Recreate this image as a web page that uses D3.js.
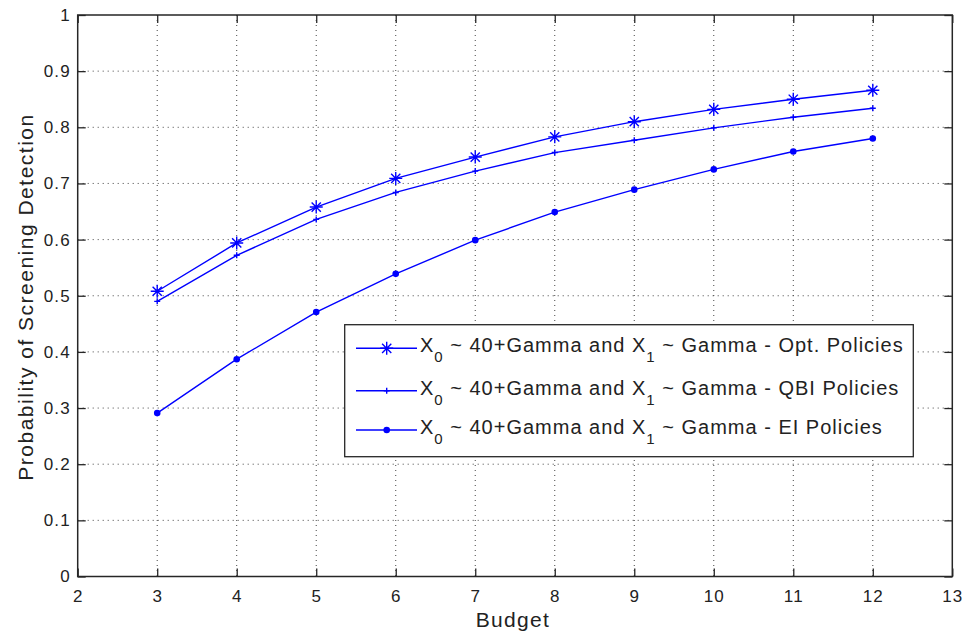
<!DOCTYPE html>
<html>
<head>
<meta charset="utf-8">
<script src="https://cdn.jsdelivr.net/npm/d3@7"></script>
<style>
  html, body { margin: 0; padding: 0; background: #fff; }
  svg { display: block; font-family: "Liberation Sans", Arial, sans-serif; }
</style>
</head>
<body>
<svg id="chart" width="967" height="641"></svg>
<script>
// Budget levels on the x axis
const budgets = [3, 4, 5, 6, 7, 8, 9, 10, 11, 12];
// Detection probability for each screening policy
const optPolicies = [0.508, 0.594, 0.658, 0.709, 0.747, 0.783, 0.810, 0.832, 0.850, 0.866];
const qbiPolicies = [0.490, 0.572, 0.636, 0.684, 0.722, 0.755, 0.777, 0.799, 0.818, 0.834];
const eiPolicies  = [0.291, 0.387, 0.471, 0.539, 0.599, 0.649, 0.689, 0.725, 0.757, 0.780];
// Axis ticks
const xTicks = [2, 3, 4, 5, 6, 7, 8, 9, 10, 11, 12, 13];
const yTicks = [0, 0.1, 0.2, 0.3, 0.4, 0.5, 0.6, 0.7, 0.8, 0.9, 1];
// Legend entries
const seriesNames = ["Opt. Policies", "QBI Policies", "EI Policies"];
const seriesMarkers = ["star", "plus", "dot"];

const svg = d3.select("#chart");
const plotL = 77.7, plotR = 952.3, plotT = 15, plotB = 576.5;
const x = d3.scaleLinear().domain([2, 13]).range([plotL, plotR]);
const y = d3.scaleLinear().domain([0, 1]).range([plotB, plotT]);
const blue = "#0000ff";
const axisColor = "#262626";
const textColor = "#222";

// dotted grid
const grid = svg.append("g");
grid.selectAll("line.vg").data(xTicks.slice(1, -1)).enter().append("line")
  .attr("x1", d => x(d)).attr("x2", d => x(d))
  .attr("y1", plotT).attr("y2", plotB)
  .attr("stroke", "#444").attr("stroke-width", 1).attr("stroke-dasharray", "1,4");
grid.selectAll("line.hg").data(yTicks.slice(1, -1)).enter().append("line")
  .attr("x1", plotL).attr("x2", plotR)
  .attr("y1", d => y(d)).attr("y2", d => y(d))
  .attr("stroke", "#444").attr("stroke-width", 1).attr("stroke-dasharray", "1,4");

// axes with inward ticks on all four sides
const tickLen = 8;
const fmtY = d => d === 0 ? "0" : (d === 1 ? "1" : d3.format(".1f")(d));
const xAxis = d3.axisBottom(x).tickValues(xTicks).tickSize(-tickLen).tickPadding(13).tickFormat(d3.format("d"));
const xAxisTop = d3.axisTop(x).tickValues(xTicks).tickSize(-tickLen).tickFormat("");
const yAxis = d3.axisLeft(y).tickValues(yTicks).tickSize(-tickLen).tickPadding(7).tickFormat(fmtY);
const yAxisRight = d3.axisRight(y).tickValues(yTicks).tickSize(-tickLen).tickFormat("");

function styleAxis(g) {
  g.select(".domain").remove();
  g.selectAll(".tick line").attr("stroke", axisColor).attr("stroke-width", 1.3);
  g.selectAll(".tick text").attr("fill", textColor)
    .style("font-size", "17px").style("letter-spacing", "1.1px")
    .style("font-family", "'Liberation Sans', Arial, sans-serif");
}
svg.append("g").attr("transform", `translate(0,${plotB})`).call(xAxis).call(styleAxis);
svg.append("g").attr("transform", `translate(0,${plotT})`).call(xAxisTop).call(styleAxis);
svg.append("g").attr("transform", `translate(${plotL},0)`).call(yAxis).call(styleAxis);
svg.append("g").attr("transform", `translate(${plotR},0)`).call(yAxisRight).call(styleAxis);

// box
svg.append("rect").attr("x", plotL).attr("y", plotT)
  .attr("width", plotR - plotL).attr("height", plotB - plotT)
  .attr("fill", "none").attr("stroke", axisColor).attr("stroke-width", 1.5);

// axis titles
svg.append("text").attr("x", 513).attr("y", 626.5)
  .attr("text-anchor", "middle").attr("fill", textColor)
  .style("font-size", "21px").style("letter-spacing", "1.3px")
  .text("Budget");
svg.append("text").attr("transform", "translate(33,297) rotate(-90)")
  .attr("text-anchor", "middle").attr("fill", textColor)
  .style("font-size", "21px").style("letter-spacing", "1.5px")
  .text("Probability of Screening Detection");

// marker drawing
function drawMarker(g, kind, cx, cy) {
  if (kind === "star") {
    const r = 6.5, d = 4.6;
    g.append("path")
      .attr("d", `M${cx - r},${cy}L${cx + r},${cy}M${cx},${cy - r}L${cx},${cy + r}` +
                 `M${cx - d},${cy - d}L${cx + d},${cy + d}M${cx - d},${cy + d}L${cx + d},${cy - d}`)
      .attr("stroke", blue).attr("stroke-width", 1.4).attr("fill", "none");
  } else if (kind === "plus") {
    const r = 3;
    g.append("path")
      .attr("d", `M${cx - r},${cy}L${cx + r},${cy}M${cx},${cy - r}L${cx},${cy + r}`)
      .attr("stroke", blue).attr("stroke-width", 1.4).attr("fill", "none");
  } else {
    g.append("circle").attr("cx", cx).attr("cy", cy).attr("r", 3.3).attr("fill", blue);
  }
}

// series lines and markers
const allSeries = [optPolicies, qbiPolicies, eiPolicies];
const line = d3.line().x(d => x(d[0])).y(d => y(d[1]));
allSeries.forEach((vals, i) => {
  const pts = budgets.map((b, j) => [b, vals[j]]);
  const g = svg.append("g");
  g.append("path").datum(pts).attr("d", line)
    .attr("fill", "none").attr("stroke", blue).attr("stroke-width", 1.4);
  pts.forEach(p => drawMarker(g, seriesMarkers[i], x(p[0]), y(p[1])));
});

// legend
const lg = svg.append("g");
lg.append("rect").attr("x", 344.7).attr("y", 324.7).attr("width", 568.6).attr("height", 132)
  .attr("fill", "#fff").attr("stroke", axisColor).attr("stroke-width", 1.3);
const rowY = [348.3, 390.7, 430];
seriesNames.forEach((name, i) => {
  const ry = rowY[i];
  lg.append("line").attr("x1", 356).attr("x2", 417).attr("y1", ry).attr("y2", ry)
    .attr("stroke", blue).attr("stroke-width", 1.4);
  drawMarker(lg, seriesMarkers[i], 386.7, ry);
  const t = lg.append("text").attr("x", 420).attr("y", ry + 4)
    .attr("fill", textColor).style("font-size", "20px").style("letter-spacing", "1px");
  t.append("tspan").text("X");
  t.append("tspan").attr("dy", 10).style("font-size", "15px").text("0");
  t.append("tspan").attr("dy", -10).text(" ~ 40+Gamma and X");
  t.append("tspan").attr("dy", 10).style("font-size", "15px").text("1");
  t.append("tspan").attr("dy", -10).text(" ~ Gamma - " + name);
});
</script>
</body>
</html>
